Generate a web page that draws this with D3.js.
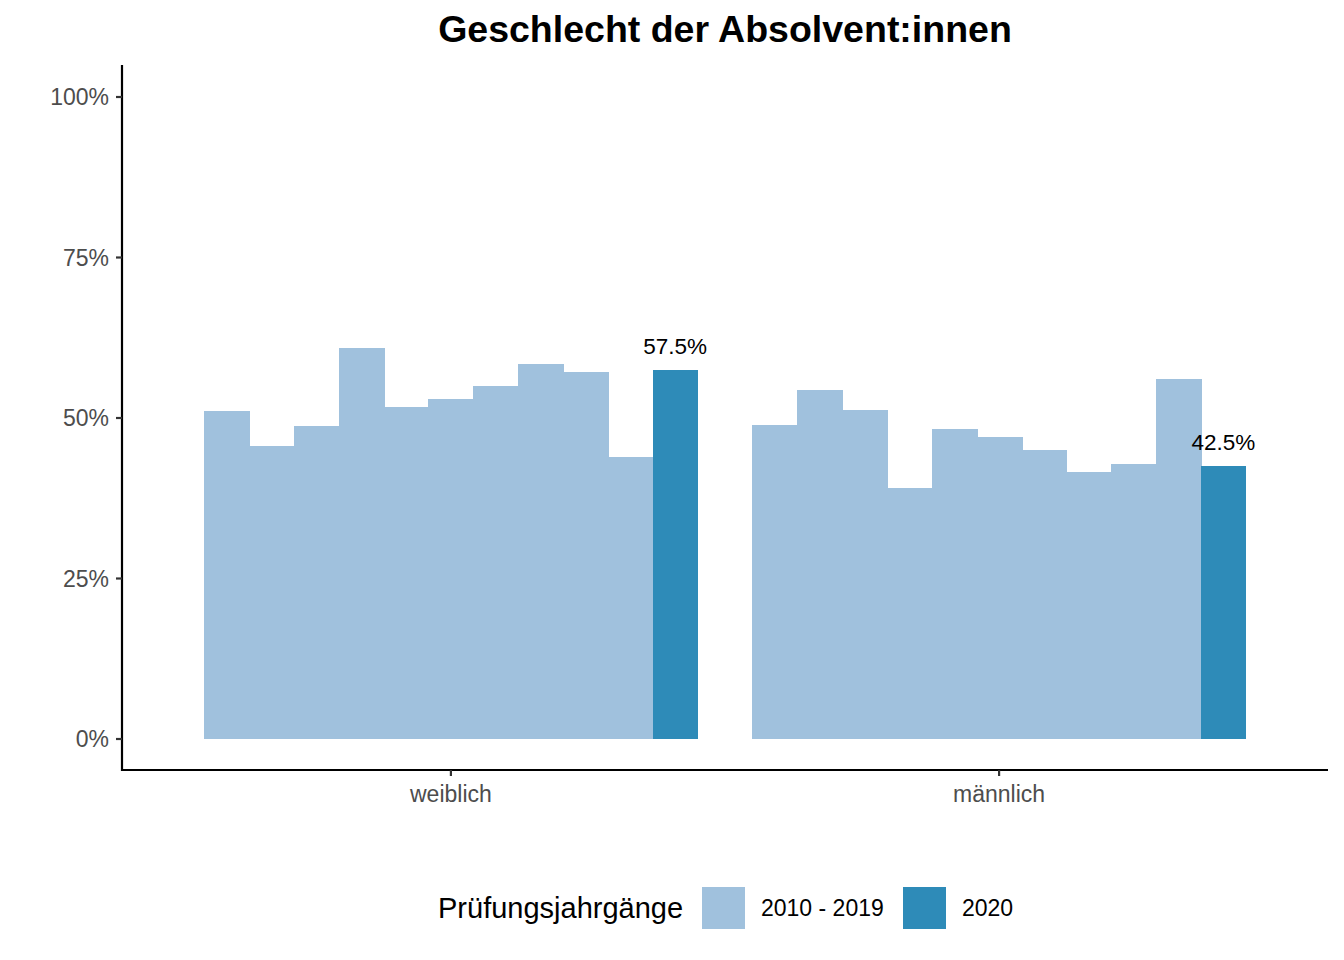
<!DOCTYPE html>
<html><head><meta charset="utf-8">
<script src="https://cdn.jsdelivr.net/npm/d3@7"></script>
<style>body{margin:0;background:#fff}svg{display:block;font-family:"Liberation Sans",Arial,sans-serif}</style>
</head><body><svg id="c" width="1344" height="960"></svg>
<script>
const categories = ["weiblich", "männlich"];
const years = ["2010","2011","2012","2013","2014","2015","2016","2017","2018","2019","2020"];
const weiblich = [51.1, 45.6, 48.8, 60.9, 51.7, 53.0, 55.0, 58.4, 57.2, 43.9, 57.5];
const maennlich = [48.9, 54.4, 51.2, 39.1, 48.3, 47.0, 45.0, 41.6, 42.8, 56.1, 42.5];
const yTicks = [0, 25, 50, 75, 100];
const legendLabels = ["2010 - 2019", "2020"];
const colors = ["#A0C1DD", "#2E8BB8"];

const svg = d3.select("#c");
const pL = 122, pR = 1328, pT = 65, pB = 770;
const step = (pR - pL) / 2.2;
const x = d3.scalePoint().domain(categories).range([pL + 0.6 * step, pR - 0.6 * step]);
const y = d3.scaleLinear().domain([0, 100]).range([739, 97]);

const data = [];
categories.forEach((c, ci) => {
  const vals = ci === 0 ? weiblich : maennlich;
  years.forEach((yr, i) => data.push({cat: c, year: yr, value: vals[i], last: i === years.length - 1}));
});
const inner = d3.scaleBand().domain(years).range([-step*0.45, step*0.45]);

svg.append("g").attr("shape-rendering", "crispEdges").selectAll("rect").data(data).join("rect")
  .attr("x", d => x(d.cat) + inner(d.year))
  .attr("width", d => inner.bandwidth() + (d.last ? 0 : 1))
  .attr("y", d => y(d.value))
  .attr("height", d => y(0) - y(d.value))
  .attr("fill", d => d.last ? colors[1] : colors[0]);

svg.append("g").selectAll("text").data(data.filter(d => d.last)).join("text")
  .attr("x", d => x(d.cat) + inner(d.year) + inner.bandwidth()/2)
  .attr("y", d => y(d.value) - 16)
  .attr("text-anchor", "middle")
  .attr("font-size", 22.5).attr("fill", "#000")
  .text(d => d.value.toFixed(1) + "%");

const ax = svg.append("g").attr("stroke", "#000");
ax.append("line").attr("x1", pL).attr("x2", pL).attr("y1", pT).attr("y2", pB + 1).attr("stroke-width", 2.2);
ax.append("line").attr("x1", pL - 1).attr("x2", pR).attr("y1", pB).attr("y2", pB).attr("stroke-width", 2.2);
yTicks.forEach(t => {
  ax.append("line").attr("x1", pL - 6).attr("x2", pL).attr("y1", y(t)).attr("y2", y(t)).attr("stroke-width", 2.2).attr("stroke", "#333");
  svg.append("text").attr("x", pL - 13).attr("y", y(t)).attr("dy", "0.36em").attr("text-anchor", "end")
    .attr("font-size", 23).attr("fill", "#4D4D4D").text(t + "%");
});
categories.forEach(c => {
  ax.append("line").attr("x1", x(c)).attr("x2", x(c)).attr("y1", pB).attr("y2", pB + 6).attr("stroke-width", 2.2).attr("stroke", "#333");
  svg.append("text").attr("x", x(c)).attr("y", pB + 32).attr("text-anchor", "middle")
    .attr("font-size", 23).attr("fill", "#4D4D4D").text(c);
});

svg.append("text").attr("x", 725).attr("y", 42).attr("text-anchor", "middle")
  .attr("font-size", 37.5).attr("font-weight", "bold").text("Geschlecht der Absolvent:innen");

const lg = svg.append("g");
lg.append("text").attr("x", 438).attr("y", 918).attr("font-size", 29).attr("fill", "#000").text("Prüfungsjahrgänge");
const keyX = [702, 903], labX = [761, 962];
legendLabels.forEach((l, i) => {
  lg.append("rect").attr("x", keyX[i]).attr("y", 887).attr("width", 43).attr("height", 42).attr("fill", colors[i]);
  lg.append("text").attr("x", labX[i]).attr("y", 916).attr("font-size", 23).attr("fill", "#000").text(l);
});
</script></body></html>
